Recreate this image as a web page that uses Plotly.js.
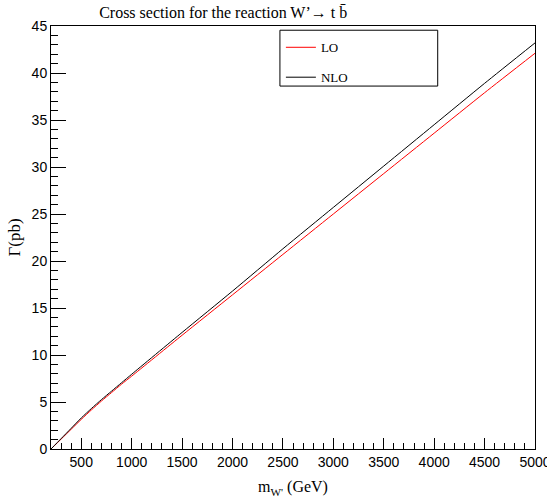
<!DOCTYPE html>
<html><head><meta charset="utf-8">
<script src="https://cdn.plot.ly/plotly-3.0.1.min.js"></script>
<style>html,body{margin:0;padding:0;background:#fff;overflow:hidden;}</style>
</head><body>
<div id="chart" style="width:547px;height:504px;overflow:hidden;"></div>
<script>
const massW = [200, 300, 400, 500, 600, 700, 800, 900, 1000, 1500, 2000, 2500, 3000, 3500, 4000, 4500, 5000];
const sigmaLO = [0, 1.05, 2.1, 3.15, 4.15, 5.1, 6.0, 6.9, 7.75, 12.1, 16.4, 20.7, 25.0, 29.3, 33.6, 37.9, 42.1];
const sigmaNLO = [0, 1.1, 2.2, 3.3, 4.3, 5.25, 6.15, 7.05, 7.95, 12.4, 16.8, 21.3, 25.7, 30.1, 34.5, 38.9, 43.2];
const seriesNames = ["LO", "NLO"];

const serif = "Liberation Serif, Times New Roman, serif";
const sans = "Liberation Sans, Arial, sans-serif";

const traces = [
  {x: massW, y: sigmaLO, name: seriesNames[0], type: "scatter", mode: "lines",
   line: {color: "#ff0000", width: 1, shape: "spline", smoothing: 0.6}, legendgroup: "a"},
  {x: massW, y: sigmaNLO, name: seriesNames[1], type: "scatter", mode: "lines",
   line: {color: "#000000", width: 1, shape: "spline", smoothing: 0.6}, legendgroup: "b"}
];

const layout = {
  width: 547, height: 504,
  margin: {l: 51, r: 12, t: 26, b: 55},
  paper_bgcolor: "#ffffff", plot_bgcolor: "#ffffff",
  showlegend: true,
  title: {text: "Cross section for the reaction W’\u2192 t b\u0304", font: {family: serif, size: 16, color: "#000"},
          x: 0.408, xref: "container", y: 0.976, yref: "container", xanchor: "center", yanchor: "middle"},
  xaxis: {range: [200, 5000], dtick: 500, tick0: 0, ticks: "inside", ticklen: 11, tickwidth: 1, tickcolor: "#000",
          minor: {dtick: 100, tick0: 0, ticks: "inside", ticklen: 6, tickcolor: "#000"},
          showgrid: false, zeroline: false, showline: true, linecolor: "#000", linewidth: 1, mirror: true,
          ticklabeloverflow: "allow",
          tickfont: {family: sans, size: 14, color: "#000"},
          title: {text: "m<sub>W'</sub> (GeV)", font: {family: serif, size: 16, color: "#000"}, standoff: 12}},
  yaxis: {range: [0, 45], dtick: 5, tick0: 0, ticks: "inside", ticklen: 15, tickwidth: 1, tickcolor: "#000",
          minor: {dtick: 1, tick0: 0, ticks: "inside", ticklen: 7, tickcolor: "#000"},
          showgrid: false, zeroline: false, showline: true, linecolor: "#000", linewidth: 1, mirror: true,
          tickfont: {family: sans, size: 14, color: "#000"},
          title: {text: "\u0393(pb)", font: {family: serif, size: 17, color: "#000"}, standoff: 6}},
  legend: {x: 0.475, y: 0.985, xanchor: "left", yanchor: "top", bgcolor: "rgba(0,0,0,0)",
           borderwidth: 0, font: {family: serif, size: 13, color: "#000"}, tracegroupgap: 10, itemwidth: 30},
  shapes: [{type: "rect", xref: "paper", yref: "paper", x0: 0.473, x1: 0.799, y0: 0.858, y1: 0.99,
            line: {color: "#000", width: 1}, fillcolor: "rgba(0,0,0,0)"}]
};

Plotly.newPlot("chart", traces, layout, {displayModeBar: false, staticPlot: true});
</script>
</body></html>
